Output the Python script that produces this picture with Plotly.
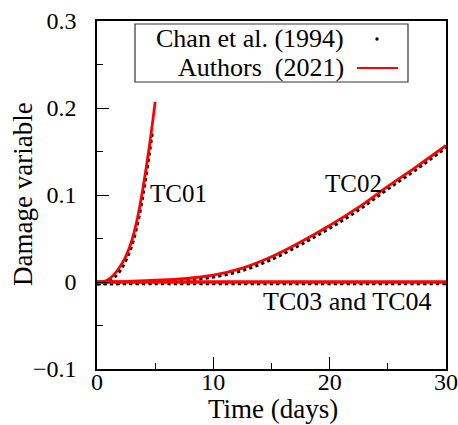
import plotly.graph_objects as go

# ---- data ----
t_tc01 = [0, 0.5, 1, 1.5, 2, 2.5, 3, 3.5, 4, 4.5, 5]
auth_tc01 = [0, 0.0005, 0.003, 0.009, 0.018, 0.030, 0.048, 0.075, 0.112, 0.156, 0.207]
t_chan_tc01 = [0, 0.5, 1, 1.5, 2, 2.5, 3, 3.5, 4, 4.5, 4.75]
chan_tc01 = [-0.002, -0.0015, 0.0005, 0.0055, 0.0135, 0.0255, 0.0425, 0.0685, 0.1045, 0.1485, 0.172]

t_tc02 = [0, 2.5, 5, 7.5, 10, 12.5, 15, 17.5, 20, 22.5, 25, 27.5, 30]
auth_tc02 = [0, 0.0005, 0.002, 0.004, 0.008, 0.016, 0.029, 0.046, 0.065, 0.086, 0.110, 0.133, 0.157]
chan_tc02 = [-0.002, -0.0015, 0.0, 0.002, 0.0058, 0.0133, 0.026, 0.043, 0.062, 0.083, 0.107, 0.130, 0.1545]

t_tc0304 = [0, 5, 10, 15, 20, 25, 30]
auth_tc03 = [0, 0, 0, 0, 0, 0, 0]
auth_tc04 = [0, 0, 0, 0, 0, 0, 0]
chan_tc0304 = [-0.002, -0.002, -0.002, -0.002, -0.002, -0.002, -0.002]

x_ticks = [0, 10, 20, 30]
y_ticks = [-0.1, 0, 0.1, 0.2, 0.3]
y_ticklabels = ["\u22120.1", "0", "0.1", "0.2", "0.3"]

FONT = "Liberation Serif, Times New Roman, Times, serif"
dot_style = dict(color="black", width=3.2, dash="dot", shape="spline")
red_style = dict(color="#ff0000", width=2.8, shape="spline")

fig = go.Figure()
for tx, ty in [(t_chan_tc01, chan_tc01), (t_tc02, chan_tc02), (t_tc0304, chan_tc0304)]:
    fig.add_trace(go.Scatter(x=tx, y=ty, mode="lines", line=dot_style,
                             showlegend=False, hoverinfo="skip"))
for tx, ty in [(t_tc01, auth_tc01), (t_tc02, auth_tc02), (t_tc0304, auth_tc03), (t_tc0304, auth_tc04)]:
    fig.add_trace(go.Scatter(x=tx, y=ty, mode="lines", line=red_style,
                             showlegend=False, hoverinfo="skip", cliponaxis=False))

# manual legend (text left, symbol right), in pixel-like paper coords
W, H = 458, 425
L, R, T, B = 97, 12, 21, 56
pw, ph = W - L - R, H - T - B


def px(xp):
    return (xp - L) / pw


def py(yp):
    return (H - B - yp) / ph


shapes = [
    dict(type="rect", xref="paper", yref="paper", x0=px(135), x1=px(408), y0=py(82), y1=py(24),
         line=dict(color="#333333", width=1.2), fillcolor="white", layer="above"),
    dict(type="circle", xref="paper", yref="paper", x0=px(375.3), x1=px(378.7), y0=py(40.7), y1=py(37.3),
         line=dict(color="black", width=0), fillcolor="black", layer="above"),
    dict(type="line", xref="paper", yref="paper", x0=px(357), x1=px(398), y0=py(68), y1=py(68),
         line=dict(color="#ff0000", width=2), layer="above"),
]


def txt(s, x, y, size, xanchor="center", angle=0):
    return dict(text=s, x=px(x), y=py(y), xref="paper", yref="paper", xanchor=xanchor,
                yanchor="middle", showarrow=False, textangle=angle,
                font=dict(family=FONT, size=size, color="black"))


annotations = [
    txt("Chan et al. (1994)", 346, 38.5, 26, "right"),
    txt("Authors\u00a0\u00a0(2021)", 346, 67, 26, "right"),
    txt("TC01", 178.5, 193.5, 25),
    txt("TC02", 353, 184, 25),
    txt("TC03 and TC04", 347, 301, 26),
    txt("Time (days)", 273, 409, 27),
    txt("Damage variable", 23, 194, 27, angle=-90),
]

fig.update_layout(
    width=W, height=H,
    margin=dict(l=L, r=R, t=T, b=B, pad=0),
    paper_bgcolor="white", plot_bgcolor="white",
    font=dict(family=FONT, size=24, color="black"),
    showlegend=False,
    shapes=shapes,
    annotations=annotations,
)
fig.update_xaxes(
    range=[0, 30], tickvals=x_ticks, ticks="inside", ticklen=12, tickwidth=1.2, tickcolor="black",
    minor=dict(dtick=5, ticks="inside", ticklen=6, tickwidth=1.2, tickcolor="black", showgrid=False),
    showline=True, linecolor="black", linewidth=1.5, mirror=True, showgrid=False, zeroline=False,
    tickfont=dict(family=FONT, size=24), ticklabelposition="outside", ticklabelstandoff=-10,
    automargin=False,
)
fig.update_yaxes(
    range=[-0.1, 0.3], tickvals=y_ticks, ticktext=y_ticklabels, ticks="inside", ticklen=12, tickwidth=1.2,
    tickcolor="black",
    minor=dict(dtick=0.05, ticks="inside", ticklen=6, tickwidth=1.2, tickcolor="black", showgrid=False),
    showline=True, linecolor="black", linewidth=1.5, mirror=True, showgrid=False, zeroline=False,
    tickfont=dict(family=FONT, size=24), ticklabelstandoff=14, automargin=False,
)

fig.write_html("out.html", config={"displayModeBar": False},
               post_script="document.body.style.margin='0';document.body.style.overflow='hidden';")
